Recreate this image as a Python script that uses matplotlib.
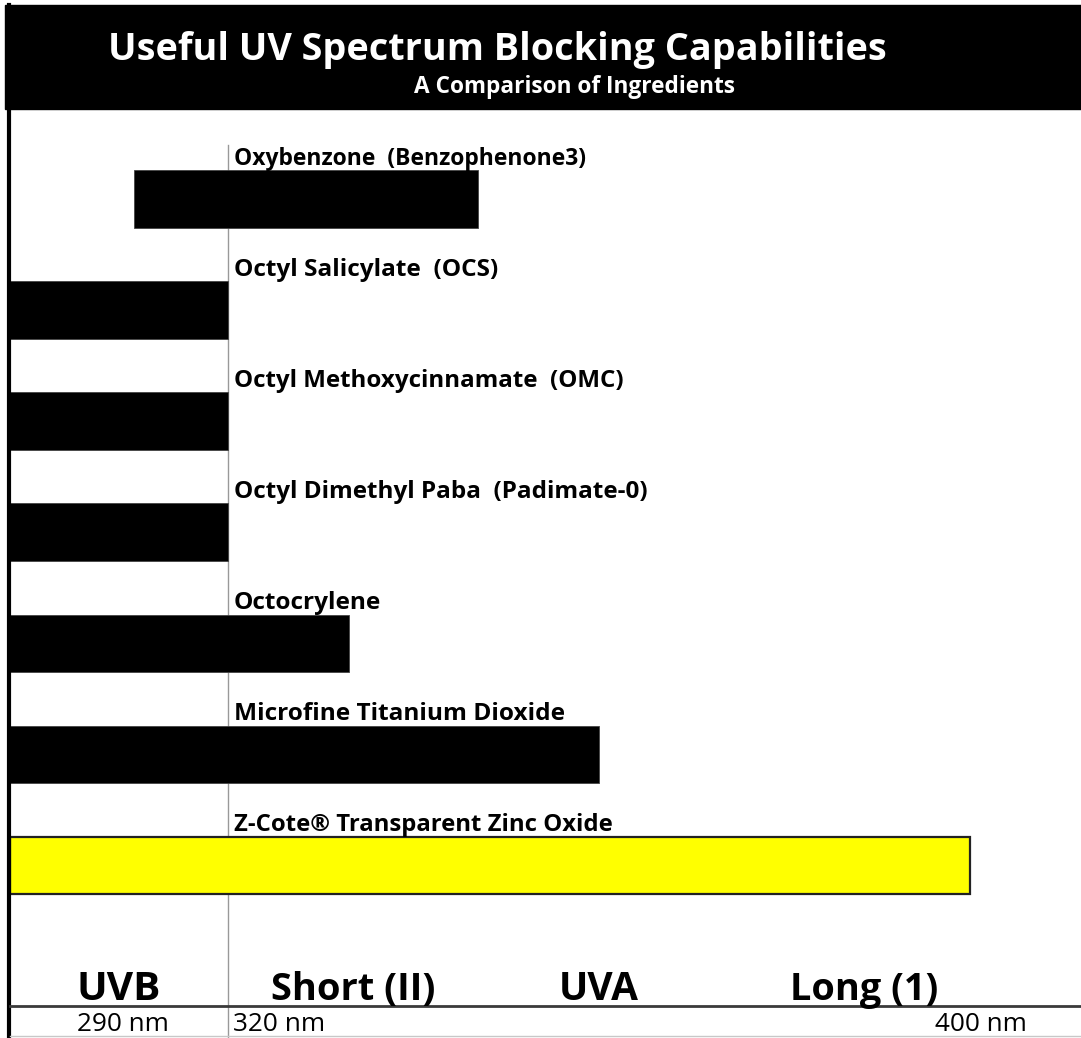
import matplotlib
matplotlib.use("Agg")
import matplotlib.pyplot as plt
import numpy as np
from matplotlib.lines import Line2D
from matplotlib.patches import Rectangle

ingredients = [
    "Oxybenzone  (Benzophenone3)",
    "Octyl Salicylate  (OCS)",
    "Octyl Methoxycinnamate  (OMC)",
    "Octyl Dimethyl Paba  (Padimate-0)",
    "Octocrylene",
    "Microfine Titanium Dioxide",
    "Z-Cote\u00ae Transparent Zinc Oxide",
]
start_nm = [307, 290, 290, 290, 290, 290, 290]
end_nm = [347, 320, 320, 320, 333, 360, 400]
bar_colors = ["black"] * 6 + ["#ffff00"]
label_widths = [353, 266, 391, 417, 148, 332, 380]  # px, as in the reference

bands = ["UVB", "Short (II)", "UVA", "Long (1)"]
band_nm = [305, 333.5, 360, 388.6]
band_widths = [84, 164, 80, 148]

tick_nm = [290, 320, 400]
tick_labels = ["290 nm", "320 nm", "400 nm"]

W, H = 1081, 1038
FONT = "Open Sans"

# wavelength -> pixel, piecewise (UVB part is squeezed)
nm_pts = np.array([280.0, 290.0, 320.0, 400.0, 420.0])
px_pts = np.array([10 - 10 * 218 / 30, 10.0, 228.0, 970.0, 970 + 20 * 742 / 80])


def fwd(x):
    return np.interp(x, nm_pts, px_pts)


def inv(p):
    return np.interp(p, px_pts, nm_pts)


fig = plt.figure(figsize=(W / 100, H / 100), dpi=100)
ax = fig.add_axes([0, 0, 1, 1])
ax.set_xscale("function", functions=(fwd, inv))
ax.set_xlim(inv(0), inv(W))
row = 111.1
y0 = 199
ax.set_ylim((H - y0) / row, -y0 / row)
ax.axis("off")

renderer = fig.canvas.get_renderer()


def fit(t, width_px):
    w = t.get_window_extent(renderer).width
    t.set_fontsize(t.get_fontsize() * width_px / w)


def fy(p):
    return 1 - p / H


def fx(p):
    return p / W


# banner
fig.patches.append(Rectangle((fx(5), fy(109)), 1, fy(5) - fy(109),
                             transform=fig.transFigure, color="black", zorder=0))
t = fig.text(fx(497), fy(60), "Useful UV Spectrum Blocking Capabilities",
             ha="center", va="baseline", color="white", fontsize=30,
             fontweight="bold", family=FONT)
fit(t, 776)
t = fig.text(fx(574), fy(93), "A Comparison of Ingredients", ha="center",
             va="baseline", color="white", fontsize=16, fontweight="bold",
             family=FONT)
fit(t, 321)

# frame lines
fig.lines.append(Line2D([fx(8.5), fx(8.5)], [0, fy(5)], transform=fig.transFigure,
                        color="black", lw=3))
fig.lines.append(Line2D([fx(10), 1], [fy(1006), fy(1006)], transform=fig.transFigure,
                        color="#3a3a3a", lw=2))
fig.lines.append(Line2D([fx(10), 1], [fy(1036), fy(1036)], transform=fig.transFigure,
                        color="#c8c8c8", lw=1))
ax.axvline(320, ymin=0, ymax=fy(145), color="#999999", lw=1, zorder=1)

# bars
ypos = np.arange(len(ingredients))
bar_h = 0.52
for i, name in enumerate(ingredients):
    ec = "#222222" if bar_colors[i] != "black" else "#444444"
    lw = 1.6 if bar_colors[i] != "black" else 0.6
    ax.barh(ypos[i], end_nm[i] - start_nm[i], left=start_nm[i], height=bar_h,
            color=bar_colors[i], edgecolor=ec, linewidth=lw, zorder=2)
    t = ax.text(320.6, ypos[i] - bar_h / 2 - 0.05, name, ha="left", va="baseline",
                fontsize=14, fontweight="bold", family=FONT, zorder=3)
    fit(t, label_widths[i])

# region labels
for name, x, w in zip(bands, band_nm, band_widths):
    t = fig.text(fx(fwd(x)), fy(1000), name, ha="center", va="baseline",
                 fontsize=28, fontweight="bold", family=FONT)
    fit(t, w)

# wavelength labels
anchors = [(305.5, "center"), (320.5, "left"), (406.1, "right")]
for (x, ha), lab in zip(anchors, tick_labels):
    t = fig.text(fx(fwd(x)), fy(1031), lab, ha=ha, va="baseline",
                 fontsize=16, family=FONT)
    fit(t, 92)

fig.savefig("out.png", dpi=100, facecolor="white")
